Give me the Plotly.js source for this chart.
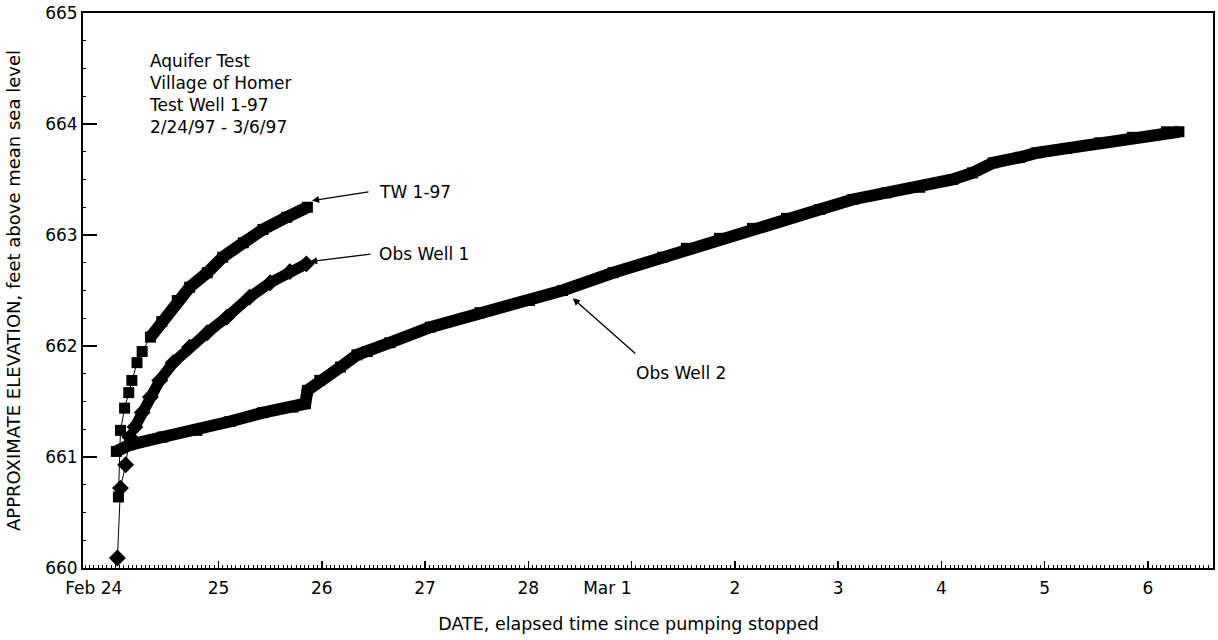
<!DOCTYPE html>
<html>
<head>
<meta charset="utf-8">
<script src="https://cdn.plot.ly/plotly-3.0.1.min.js"></script>
<style>html,body{margin:0;padding:0;background:#fff;}#chart{width:1218px;height:640px;}</style>
</head>
<body>
<div id="chart"></div>
<script>
// Days elapsed since Feb 24, 1997 00:00 ; elevations in feet above mean sea level
const twDays = [0.03, 0.05, 0.09, 0.13, 0.16, 0.21, 0.26, 0.34, 0.45, 0.60, 0.72, 0.89, 1.04, 1.24, 1.43, 1.66, 1.86];
const twElev = [660.64, 661.24, 661.44, 661.58, 661.69, 661.85, 661.95, 662.08, 662.22, 662.41, 662.53, 662.66, 662.80, 662.93, 663.05, 663.16, 663.25];

const ow1Days = [0.02, 0.05, 0.10, 0.14, 0.19, 0.26, 0.34, 0.43, 0.56, 0.72, 0.89, 1.08, 1.30, 1.50, 1.69, 1.85];
const ow1Elev = [660.09, 660.72, 660.93, 661.18, 661.27, 661.40, 661.54, 661.69, 661.85, 661.99, 662.12, 662.26, 662.44, 662.57, 662.67, 662.74];

const ow2Days = [0.01, 0.14, 0.46, 0.79, 1.11, 1.43, 1.72, 1.84, 1.86, 1.98, 2.18, 2.34, 2.44, 2.66, 3.05, 3.53, 4.01, 4.33, 4.82, 5.30, 5.53, 5.85, 6.17, 6.50, 6.82, 7.14, 7.47, 7.79, 8.11, 8.30, 8.50, 8.76, 8.92, 9.21, 9.53, 9.85, 10.18, 10.30];
const ow2Elev = [661.05, 661.11, 661.18, 661.24, 661.32, 661.40, 661.45, 661.48, 661.60, 661.69, 661.81, 661.92, 661.95, 662.03, 662.17, 662.30, 662.41, 662.50, 662.66, 662.80, 662.88, 662.97, 663.06, 663.15, 663.23, 663.32, 663.38, 663.43, 663.50, 663.56, 663.65, 663.70, 663.74, 663.78, 663.83, 663.88, 663.93, 663.93];

const dayTicks = [0, 1, 2, 3, 4, 5, 6, 7, 8, 9, 10];
const NB = '\u00A0';
const ZW = '\u200B';
const dayLabels = ['Feb 24' + NB.repeat(8), '25', '26', '27', '28', 'Mar 1' + NB.repeat(9), '2', '3', '4', '5', '6'];
const elevTicks = [660, 661, 662, 663, 664, 665];

const headerLines = ['Aquifer Test', 'Village of Homer', 'Test Well 1-97', '2/24/97 - 3/6/97'];
const seriesNames = ['TW 1-97', 'Obs Well 1', 'Obs Well 2'];
const xTitle = 'DATE, elapsed time since pumping stopped';
const yTitle = 'APPROXIMATE ELEVATION, feet above mean sea level';

const FONT = 'DejaVu Sans, Arial, sans-serif';
const BLACK = '#000';

const denseTW = 7, denseOW1 = 4;

const traces = [
  { x: twDays, y: twElev, mode: 'lines+markers', name: seriesNames[0],
    line: { color: BLACK, width: 1 }, marker: { symbol: 'square', size: 11, color: BLACK }, showlegend: false },
  { x: twDays.slice(denseTW), y: twElev.slice(denseTW), mode: 'lines', name: seriesNames[0],
    line: { color: BLACK, width: 12 }, showlegend: false },
  { x: ow1Days, y: ow1Elev, mode: 'lines+markers', name: seriesNames[1],
    line: { color: BLACK, width: 1 }, marker: { symbol: 'diamond', size: 13, color: BLACK }, showlegend: false },
  { x: ow1Days.slice(denseOW1), y: ow1Elev.slice(denseOW1), mode: 'lines', name: seriesNames[1],
    line: { color: BLACK, width: 11 }, showlegend: false },
  { x: ow2Days, y: ow2Elev, mode: 'lines+markers', name: seriesNames[2],
    line: { color: BLACK, width: 12 }, marker: { symbol: 'square', size: 11, color: BLACK }, showlegend: false }
];

const arrow = (hx, hy, tx, ty) => ({
  x: hx, y: hy, ax: tx, ay: ty, xref: 'x', yref: 'y', axref: 'x', ayref: 'y',
  text: '', showarrow: true, arrowhead: 2, arrowsize: 1.1, arrowwidth: 1.3, arrowcolor: BLACK, standoff: 0
});
const label = (x, y, txt, anchor) => ({
  x: x, y: y, xref: 'x', yref: 'y', text: txt, showarrow: false, xanchor: anchor, yanchor: 'middle',
  font: { family: FONT, size: 17, color: BLACK }
});

const layout = {
  width: 1218, height: 640,
  paper_bgcolor: '#fff', plot_bgcolor: '#fff',
  margin: { l: 83, r: 5, t: 13, b: 72, pad: 0 },
  font: { family: FONT, color: BLACK },
  showlegend: false,
  xaxis: {
    range: [-0.313, 10.63], autorange: false, type: 'linear',
    tickmode: 'array', tickvals: dayTicks, ticktext: dayLabels,
    ticks: 'inside', ticklen: 7, tickwidth: 1.5, tickcolor: BLACK,
    minor: { dtick: 1 / 24, tick0: 0, ticks: 'inside', ticklen: 3, tickwidth: 1, tickcolor: BLACK, showgrid: false },
    showline: true, linewidth: 2, linecolor: BLACK, mirror: true,
    showgrid: false, zeroline: false, automargin: false,
    tickfont: { family: FONT, size: 17, color: BLACK },
    ticklabelstandoff: 4,
    title: { text: xTitle + NB.repeat(7) + ZW, font: { family: FONT, size: 17.5, color: BLACK }, standoff: 20 }
  },
  yaxis: {
    range: [660, 665], autorange: false,
    tickmode: 'array', tickvals: elevTicks, ticktext: elevTicks.map(String),
    ticks: 'inside', ticklen: 14, tickwidth: 1.5, tickcolor: BLACK,
    minor: { dtick: 0.25, tick0: 660, ticks: 'inside', ticklen: 3, tickwidth: 1, tickcolor: BLACK, showgrid: false },
    showline: true, linewidth: 2, linecolor: BLACK, mirror: true,
    showgrid: false, zeroline: false, automargin: false,
    tickfont: { family: FONT, size: 17, color: BLACK },
    title: { text: yTitle, font: { family: FONT, size: 18, color: BLACK }, standoff: 20 }
  },
  annotations: [
    { xref: 'paper', yref: 'paper', x: 0.0566, y: 0.935, xanchor: 'left', yanchor: 'top', align: 'left',
      text: headerLines.join('<br>'), showarrow: false, font: { family: FONT, size: 17, color: BLACK } },
    arrow(1.904, 663.31, 2.466, 663.39),
    label(2.534, 663.39, seriesNames[0], 'left'),
    arrow(1.885, 662.76, 2.485, 662.83),
    label(2.534, 662.83, seriesNames[1], 'left'),
    arrow(4.43, 662.43, 5.05, 661.92),
    label(5.476, 661.76, seriesNames[2], 'center')
  ]
};

Plotly.newPlot('chart', traces, layout, { displayModeBar: false, staticPlot: true });
</script>
</body>
</html>
